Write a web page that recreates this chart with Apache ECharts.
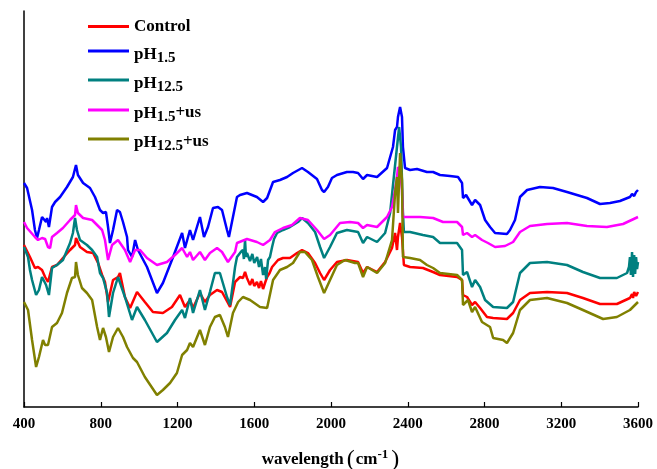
<!DOCTYPE html>
<html>
<head>
<meta charset="utf-8">
<script src="https://cdn.jsdelivr.net/npm/echarts@6/dist/echarts.min.js"></script>
<style>html,body{margin:0;padding:0;background:#fff}#c{width:657px;height:469px}</style>
</head>
<body>
<div id="c"></div>
<script>
const xTicks = [400, 800, 1200, 1600, 2000, 2400, 2800, 3200, 3600];
const seriesNames = ['Control', 'pH1.5', 'pH12.5', 'pH1.5+us', 'pH12.5+us'];

const control = [[400,162],[431,150],[457,139],[473,140],[494,137],[510,130],[525,125],[546,140],[572,142],[603,149],[640,157],[666,162],[671,169],[676,167],[692,160],[728,155],[760,154],[786,144],[807,132],[822,125],[838,105],[864,127],[890,130],[900,134],[926,110],[953,99],[989,115],[1030,105],[1072,95],[1124,94],[1171,100],[1213,112],[1239,100],[1265,107],[1281,99],[1317,114],[1343,105],[1369,112],[1406,117],[1432,115],[1463,104],[1474,100],[1500,125],[1526,130],[1541,129],[1552,135],[1562,129],[1578,122],[1590,128],[1600,121],[1614,125],[1625,119],[1635,126],[1646,118],[1656,124],[1667,130],[1680,134],[1693,140],[1724,147],[1750,149],[1786,149],[1823,154],[1849,157],[1880,154],[1917,144],[1943,134],[1964,127],[1995,137],[2031,145],[2083,147],[2141,145],[2167,134],[2188,140],[2240,135],[2282,145],[2318,159],[2334,174],[2344,157],[2349,170],[2360,184],[2370,170],[2380,142],[2412,140],[2479,139],[2532,135],[2568,132],[2657,130],[2683,127],[2688,112],[2709,110],[2735,102],[2751,105],[2777,99],[2813,90],[2845,89],[2917,88],[2949,94],[2985,107],[3037,114],[3126,115],[3230,114],[3313,109],[3402,103],[3490,103],[3558,109],[3569,113],[3574,109],[3580,115],[3590,111],[3600,115]];

const ph15 = [[400,224],[416,219],[442,197],[457,177],[468,169],[478,177],[494,190],[504,189],[515,185],[520,189],[530,180],[546,200],[562,205],[588,210],[624,220],[655,230],[671,242],[681,232],[708,224],[744,219],[770,210],[796,197],[812,194],[827,195],[838,180],[848,164],[864,177],[885,197],[900,195],[916,185],[937,170],[942,157],[963,150],[979,167],[994,157],[1041,140],[1093,114],[1124,124],[1177,150],[1224,174],[1239,159],[1265,177],[1281,167],[1317,190],[1338,170],[1359,180],[1385,199],[1411,200],[1432,197],[1458,177],[1468,170],[1489,190],[1510,210],[1526,212],[1562,214],[1614,210],[1646,205],[1667,209],[1698,225],[1734,227],[1771,230],[1802,234],[1849,239],[1880,235],[1927,228],[1953,217],[1964,215],[1984,220],[2005,229],[2031,232],[2083,235],[2115,235],[2141,234],[2167,228],[2188,232],[2240,230],[2292,239],[2323,260],[2334,277],[2344,280],[2349,290],[2360,300],[2370,290],[2375,260],[2386,239],[2412,237],[2448,238],[2500,235],[2532,235],[2568,232],[2620,231],[2662,230],[2683,224],[2688,209],[2704,212],[2714,212],[2735,202],[2751,207],[2777,202],[2803,187],[2829,180],[2855,174],[2917,173],[2933,177],[2959,187],[2985,210],[3022,217],[3089,220],[3157,219],[3230,215],[3282,212],[3334,209],[3402,203],[3454,204],[3506,206],[3558,210],[3569,213],[3580,211],[3590,215],[3600,217]];

const ph125 = [[400,160],[421,150],[431,137],[442,127],[463,112],[478,117],[494,130],[515,122],[530,112],[546,139],[572,142],[603,147],[640,164],[655,174],[666,189],[676,177],[692,167],[728,162],[755,157],[781,150],[796,134],[812,129],[833,114],[843,90],[864,114],[890,130],[900,130],[926,110],[963,87],[989,100],[1030,87],[1093,65],[1145,74],[1187,87],[1224,97],[1239,89],[1265,109],[1281,94],[1317,117],[1343,97],[1369,115],[1395,134],[1421,134],[1458,110],[1474,102],[1500,140],[1510,150],[1530,155],[1541,157],[1546,148],[1552,167],[1557,150],[1562,154],[1578,146],[1590,153],[1600,144],[1615,150],[1625,140],[1635,148],[1646,132],[1656,140],[1662,128],[1672,147],[1682,150],[1693,160],[1703,168],[1719,174],[1750,177],[1786,180],[1828,185],[1849,189],[1880,184],[1917,175],[1943,160],[1964,149],[1995,160],[2031,174],[2083,177],[2141,175],[2167,164],[2188,170],[2240,165],[2282,174],[2308,194],[2334,242],[2344,244],[2355,280],[2365,260],[2375,194],[2380,175],[2412,175],[2479,172],[2532,170],[2568,164],[2657,164],[2683,157],[2688,132],[2709,135],[2735,120],[2751,127],[2777,120],[2803,107],[2845,100],[2917,99],[2949,105],[2985,134],[3037,144],[3126,145],[3230,142],[3313,135],[3402,129],[3490,129],[3543,134],[3553,140],[3558,150],[3563,132],[3569,155],[3574,130],[3580,152],[3585,133],[3590,150],[3595,138],[3600,145]];

const ph15us = [[400,185],[416,179],[457,170],[473,167],[494,169],[510,168],[525,160],[536,159],[546,170],[572,174],[603,179],[640,187],[666,192],[671,202],[681,194],[708,189],[755,187],[781,182],[807,177],[822,167],[838,147],[859,162],[890,167],[900,169],[926,157],[953,145],[979,157],[1005,157],[1041,149],[1093,142],[1145,145],[1187,152],[1224,159],[1250,150],[1265,155],[1281,147],[1317,155],[1343,147],[1369,154],[1406,159],[1432,155],[1463,145],[1500,155],[1510,164],[1562,168],[1614,165],[1646,162],[1682,167],[1708,175],[1750,179],[1797,182],[1838,189],[1880,187],[1927,177],[1964,168],[1995,172],[2047,184],[2099,185],[2141,184],[2167,179],[2188,182],[2240,180],[2292,190],[2318,200],[2334,217],[2344,230],[2349,240],[2360,237],[2370,217],[2375,190],[2412,190],[2464,190],[2532,189],[2584,185],[2657,185],[2683,180],[2688,172],[2709,174],[2735,170],[2751,172],[2787,167],[2818,164],[2855,160],[2907,161],[2949,165],[2985,175],[3037,181],[3126,183],[3230,184],[3334,181],[3438,180],[3522,183],[3600,190]];

const ph125us = [[400,105],[421,97],[442,67],[463,40],[478,50],[499,67],[510,62],[525,62],[546,80],[572,84],[598,94],[624,114],[650,129],[666,130],[671,145],[681,132],[702,119],[728,114],[755,107],[781,80],[796,67],[812,79],[827,70],[843,55],[864,70],[890,79],[900,79],[916,70],[937,60],[968,49],[989,45],[1030,30],[1093,12],[1124,17],[1161,24],[1197,34],[1224,52],[1250,57],[1265,64],[1281,60],[1317,77],[1343,62],[1369,80],[1395,90],[1421,92],[1447,80],[1463,70],[1489,94],[1516,105],[1541,110],[1578,107],[1630,100],[1667,99],[1698,127],[1734,137],[1771,140],[1802,144],[1838,155],[1864,155],[1901,147],[1932,130],[1964,114],[1995,127],[2031,142],[2073,147],[2125,144],[2141,144],[2167,130],[2188,140],[2240,134],[2282,144],[2318,167],[2334,214],[2344,230],[2349,194],[2360,254],[2370,227],[2375,150],[2412,149],[2464,147],[2500,142],[2532,139],[2568,134],[2657,132],[2683,127],[2688,102],[2714,107],[2735,95],[2751,100],[2787,85],[2829,80],[2845,69],[2897,67],[2917,64],[2949,74],[2985,97],[3037,107],[3126,109],[3230,104],[3313,97],[3418,88],[3490,90],[3558,97],[3600,105]];

const seriesData = [control, ph15, ph125, ph15us, ph125us];
const colors = ['#ff0000', '#0000ff', '#008080', '#ff00ff', '#808000'];
const legendLabels = {
  'Control': '{c|Control}',
  'pH1.5': '{m|pH}{s|1.5}',
  'pH12.5': '{m|pH}{s|12.5}',
  'pH1.5+us': '{m|pH}{s|1.5}{u|+us}',
  'pH12.5+us': '{m|pH}{s|12.5}{u|+us}'
};
const legendTops = [18, 46, 75, 104, 133];

const FF = 'Liberation Serif, Times New Roman, serif';
const rich = {
  c: {fontFamily: FF, fontWeight: 'bold', fontSize: 17, color: '#000'},
  m: {fontFamily: FF, fontWeight: 'bold', fontSize: 17, lineHeight: 17, color: '#000', verticalAlign: 'bottom', padding: [0, 0, 3, 0]},
  s: {fontFamily: FF, fontWeight: 'bold', fontSize: 15, lineHeight: 15, color: '#000', verticalAlign: 'bottom'},
  u: {fontFamily: FF, fontWeight: 'bold', fontSize: 17, lineHeight: 17, color: '#000', verticalAlign: 'bottom', padding: [0, 0, 4, 0]}
};

const chart = echarts.init(document.getElementById('c'), null, {renderer: 'canvas'});
chart.setOption({
  animation: false,
  backgroundColor: '#fff',
  grid: {left: 24, right: 19, top: 11, bottom: 62, outerBoundsMode: 'none', containLabel: false},
  legend: seriesNames.map((n, i) => ({
    data: [n], left: 88, top: legendTops[i], padding: 0,
    icon: 'rect', itemWidth: 41, itemHeight: 3, itemGap: 0,
    formatter: name => legendLabels[name],
    textStyle: {rich: rich, fontFamily: FF, fontWeight: 'bold', fontSize: 17, color: '#000',
      padding: i === 0 ? 0 : [13, 0, 0, 0]}
  })),
  xAxis: {
    type: 'value', min: xTicks[0], max: xTicks[xTicks.length - 1], interval: 400,
    axisLine: {lineStyle: {color: '#000', width: 1.5}},
    axisTick: {inside: true, length: 5, lineStyle: {color: '#000', width: 1.2}},
    axisLabel: {color: '#000', fontFamily: FF, fontWeight: 'bold', fontSize: 15, margin: 10,
      formatter: v => String(v)},
    splitLine: {show: false},
    name: '{a|wavelength}{p|(}{a|cm}{e|-1}{p|)}',
    nameLocation: 'middle', nameGap: 41,
    nameTextStyle: {
      rich: {
        a: {fontFamily: FF, fontWeight: 'bold', fontSize: 17, color: '#000'},
        p: {fontFamily: FF, fontSize: 24, color: '#000', padding: [0, 1, 0, 3]},
        e: {fontFamily: FF, fontWeight: 'bold', fontSize: 13, color: '#000', padding: [0, 0, 11, 0]}
      }
    }
  },
  yAxis: {
    type: 'value', min: 0, max: 396,
    axisLine: {show: true, lineStyle: {color: '#000', width: 1.5}},
    axisTick: {show: false}, axisLabel: {show: false}, splitLine: {show: false}
  },
  series: seriesNames.map((n, i) => ({
    name: n, type: 'line', data: seriesData[i], symbol: 'none', smooth: false,
    color: colors[i], lineStyle: {color: colors[i], width: 2.5}
  }))
});
</script>
</body>
</html>
